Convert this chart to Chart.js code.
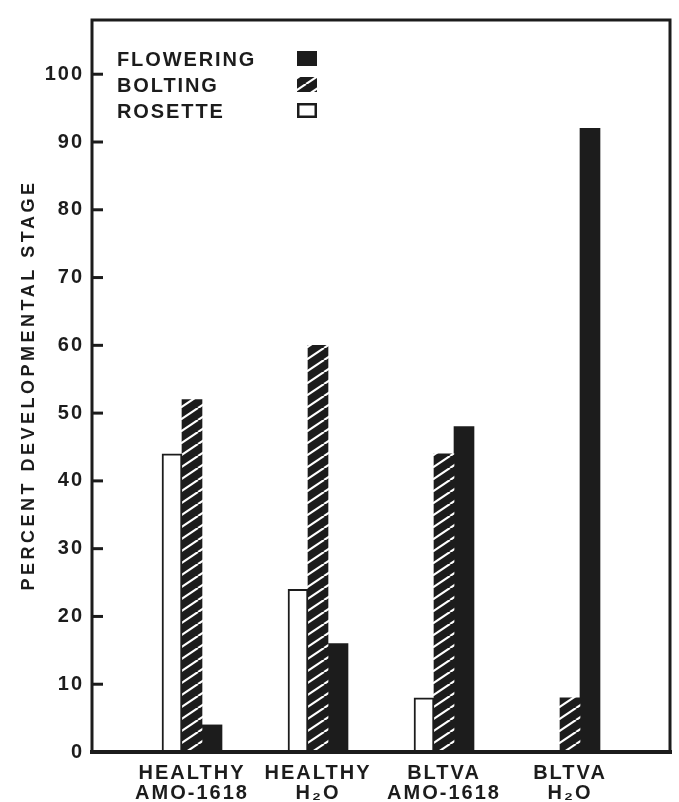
<!DOCTYPE html>
<html><head><meta charset="utf-8">
<script src="https://cdn.jsdelivr.net/npm/chart.js@4"></script>
<style>html,body{margin:0;padding:0;background:#fff;} #wrap{width:679px;height:802px;}</style>
</head><body><div id="wrap"><canvas id="c" width="679" height="802"></canvas></div>
<script>
const categories = [['HEALTHY','AMO-1618'],['HEALTHY','H₂O'],['BLTVA','AMO-1618'],['BLTVA','H₂O']];
const seriesNames = ['ROSETTE','BOLTING','FLOWERING'];
const rosette = [44,24,8,0];
const bolting = [52,60,44,8];
const flowering = [4,16,48,92];
const yTickValues = [0,10,20,30,40,50,60,70,80,90,100];
const yTitle = 'PERCENT DEVELOPMENTAL STAGE';

const INK = '#1c1c1c';
const FONT = '"Liberation Sans", Arial, Helvetica, sans-serif';
const canvas = document.getElementById('c');
const mainCtx = canvas.getContext('2d');

function hatchPattern() {
  const t = document.createElement('canvas'); t.width = 18; t.height = 12;
  const g = t.getContext('2d');
  g.fillStyle = INK; g.fillRect(0, 0, 18, 12);
  g.strokeStyle = '#fff'; g.lineWidth = 2.2;
  for (const dx of [-18, 0, 18]) { g.beginPath(); g.moveTo(dx, 12); g.lineTo(dx + 18, 0); g.stroke(); }
  return mainCtx.createPattern(t, 'repeat');
}
const hatch = hatchPattern();

const seriesStyle = {
  ROSETTE: { backgroundColor: '#ffffff', borderColor: INK, borderWidth: 2 },
  BOLTING: { backgroundColor: hatch, borderWidth: 0 },
  FLOWERING: { backgroundColor: INK, borderWidth: 0 }
};
const seriesValues = [rosette, bolting, flowering];

const deco = {
  id: 'deco',
  beforeDraw(chart) { chart.ctx.letterSpacing = '2px'; },
  afterDatasetsDraw(chart) {
    const { ctx, chartArea: a, scales: { y } } = chart;
    ctx.save();
    ctx.strokeStyle = INK; ctx.lineCap = 'square';
    ctx.lineWidth = 3;
    ctx.strokeRect(a.left, a.top, a.right - a.left, a.bottom - a.top);
    ctx.lineWidth = 4;
    ctx.beginPath(); ctx.moveTo(a.left, a.bottom); ctx.lineTo(a.right, a.bottom); ctx.stroke();
    ctx.lineCap = 'butt'; ctx.lineWidth = 3;
    yTickValues.forEach(v => {
      const py = y.getPixelForValue(v);
      ctx.beginPath(); ctx.moveTo(a.left, py); ctx.lineTo(a.left + 11, py); ctx.stroke();
    });
    // legend
    const items = chart.data.datasets.slice().reverse();
    ctx.font = 'bold 20px ' + FONT; ctx.letterSpacing = '1.9px';
    ctx.textAlign = 'left'; ctx.textBaseline = 'alphabetic';
    items.forEach((ds, i) => {
      const top = a.top + 31 + i * 26;
      ctx.fillStyle = INK;
      ctx.fillText(ds.label, 117, top + 15);
      ctx.fillStyle = ds.backgroundColor;
      ctx.fillRect(297, top, 20, 15);
      if (ds.borderWidth) {
        ctx.lineWidth = 2.5; ctx.strokeStyle = INK;
        ctx.strokeRect(298.25, top + 1.25, 17.5, 12.5);
      }
    });
    // y title
    ctx.font = 'bold 18px ' + FONT; ctx.letterSpacing = '3.5px';
    ctx.fillStyle = INK; ctx.textAlign = 'center'; ctx.textBaseline = 'middle';
    ctx.translate(29, (a.top + a.bottom) / 2 - 1);
    ctx.rotate(-Math.PI / 2);
    ctx.fillText(yTitle, 0, 0);
    ctx.restore();
  }
};

new Chart(canvas, {
  type: 'bar',
  data: {
    datasets: seriesValues.map((arr, k) => Object.assign({
      label: seriesNames[k],
      data: arr.map((v, i) => ({ x: i + 1, y: v })),
      barThickness: 20,
      borderSkipped: 'start'
    }, seriesStyle[seriesNames[k]]))
  },
  options: {
    responsive: false, animation: false, devicePixelRatio: 1,
    layout: { padding: { top: 9, right: 9, left: 0, bottom: 0 } },
    plugins: { legend: { display: false }, tooltip: { enabled: false } },
    scales: {
      x: {
        type: 'linear', bounds: 'data', offset: false, min: 1 - 100 / 126, max: 4 + 100 / 126,
        grid: { display: false, drawTicks: false, offset: false }, border: { display: false },
        afterBuildTicks: s => { s.ticks = categories.map((c, i) => ({ value: i + 1 })); },
        afterFit: s => { s.height = 50; },
        ticks: {
          autoSkip: false, maxRotation: 0, minRotation: 0, padding: 11, color: INK,
          font: { family: FONT, size: 20, weight: 'bold', lineHeight: 1.0 },
          callback: v => categories[Math.round(v) - 1]
        }
      },
      y: {
        bounds: 'data', min: 0, max: 108,
        afterBuildTicks: s => { s.ticks = yTickValues.map(v => ({ value: v })); },
        afterFit: s => { s.width = 92; },
        grid: { display: false, drawTicks: false }, border: { display: false },
        ticks: { padding: 8, color: INK, font: { family: FONT, size: 20, weight: 'bold' } }
      }
    }
  },
  plugins: [deco]
});
</script></body></html>
